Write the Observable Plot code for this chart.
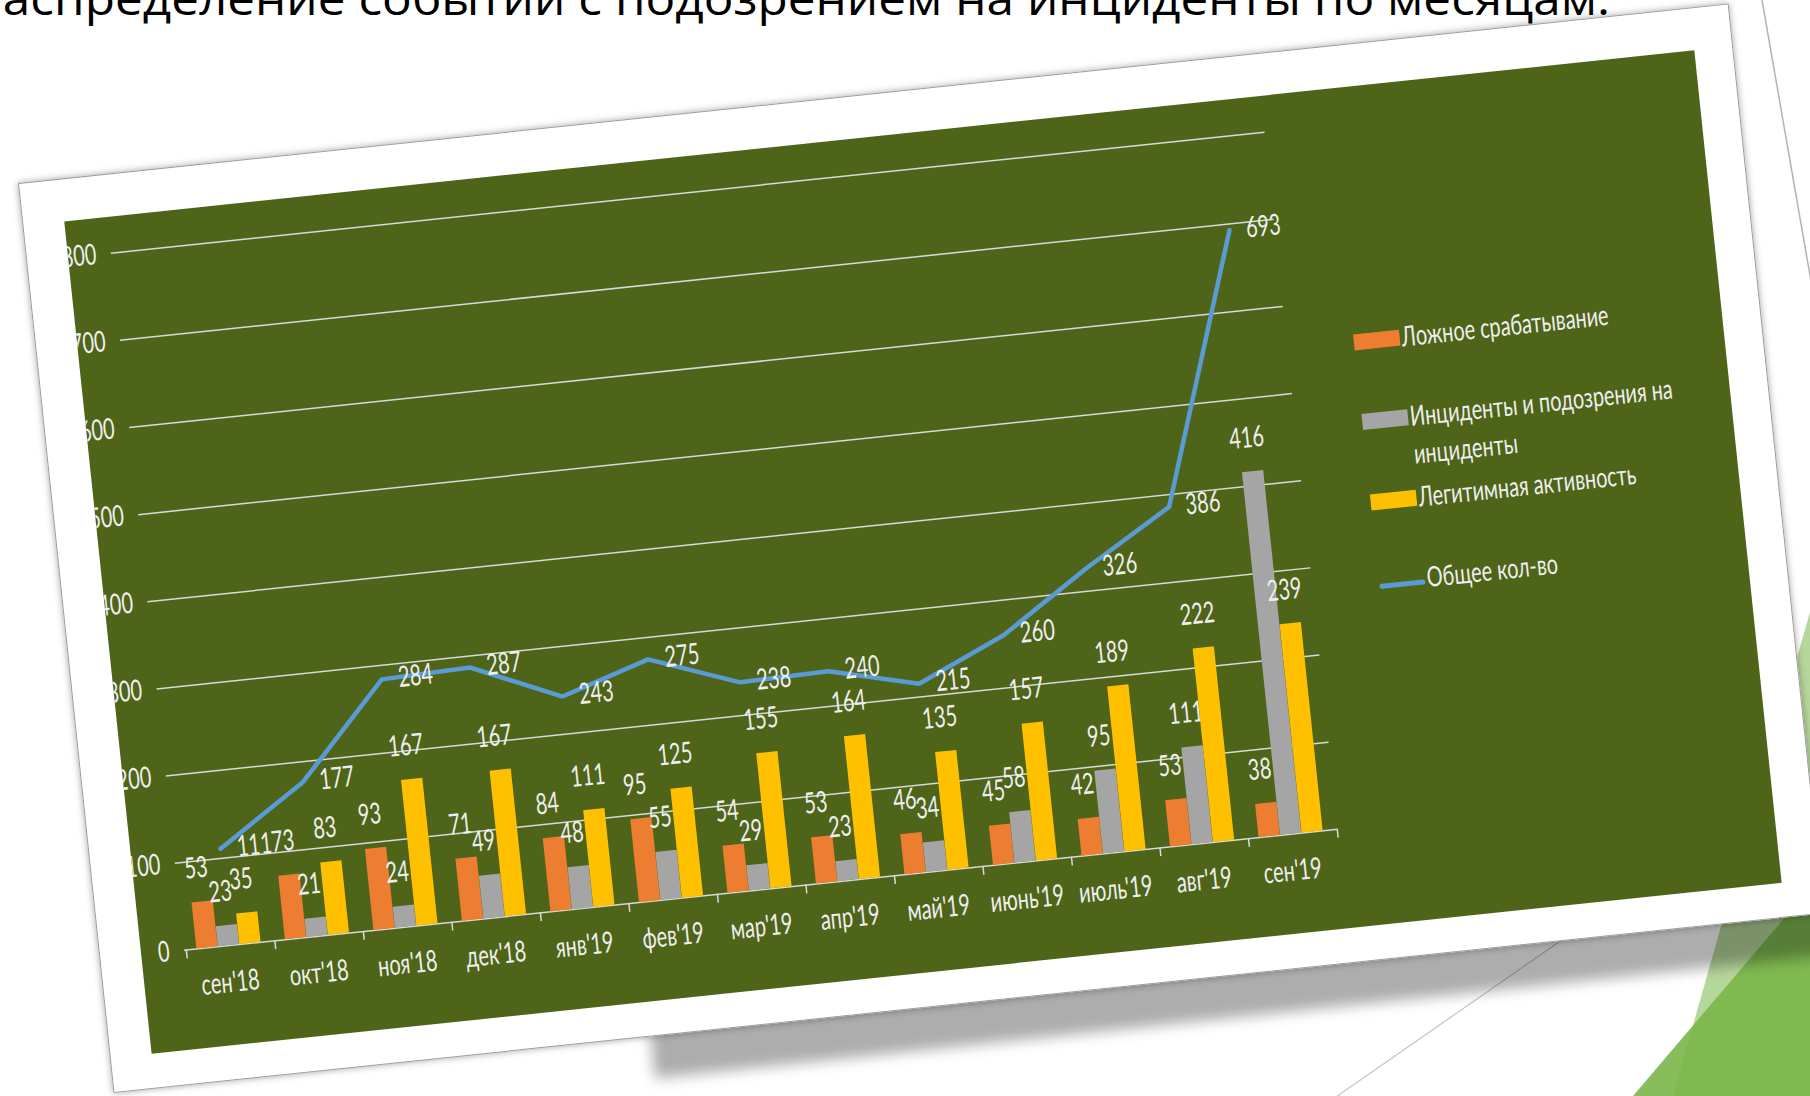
<!DOCTYPE html>
<html><head><meta charset="utf-8">
<script src="https://cdn.jsdelivr.net/npm/d3@7"></script>
<script src="https://cdn.jsdelivr.net/npm/@observablehq/plot@0.6"></script>
<style>
html,body{margin:0;padding:0;background:#fff;}
body{width:1810px;height:1096px;overflow:hidden;position:relative;}
#deco{position:absolute;left:0;top:0;}
#titlesvg{position:absolute;left:0;top:0;}
#frame{position:absolute;left:18px;top:183px;width:1720px;height:915px;transform-origin:0 0;transform:rotate(-5.99deg);}
#shadow{position:absolute;left:540px;top:895px;width:1320px;height:62px;background:rgba(0,0,0,0.32);filter:blur(7px);}
#card{position:absolute;left:0;top:0;width:1720px;height:915px;box-sizing:border-box;background:#fff;border:1px solid #9c9c9c;box-shadow:0 0 7px rgba(0,0,0,0.35);}
#green{position:absolute;left:41px;top:42px;width:1639px;height:837px;background:#4E6419;overflow:hidden;}
#chart{position:absolute;left:0;top:0;}
.sw{position:absolute;}
.lt{position:absolute;color:#EEEEEE;font-family:Lato,"Open Sans",sans-serif;font-size:28px;line-height:38px;white-space:nowrap;transform-origin:0 0;transform:translateY(-19px) scaleX(0.71);}
</style></head><body>
<svg id="deco" width="1810" height="1096">
  <line x1="1762" y1="0" x2="1830" y2="390" stroke="#b3b3b3" stroke-width="1.5"/>
  <line x1="1300" y1="1122" x2="1720" y2="830" stroke="#c4c4c4" stroke-width="1.2"/>
  <polygon points="1673,1096 1810,612 1810,1096" fill="#7AB648" fill-opacity="0.55"/>
  <polygon points="1633,1096 1810,888 1810,1096" fill="#7AB648" fill-opacity="0.9"/>
</svg>
<svg id="titlesvg" width="1810" height="60">
  <text x="-27" y="15" font-family="Open Sans, DejaVu Sans, sans-serif" font-size="46" fill="#000" textLength="1637" lengthAdjust="spacingAndGlyphs">Распределение событий с подозрением на инциденты по месяцам:</text>
</svg>
<div id="frame">
  <div id="shadow"></div>
  <div id="card"><div id="green"><div id="chart"></div><div id="legend"></div></div></div>
</div>
<script>
// ---- data ----
const months = ["сен'18","окт'18","ноя'18","дек'18","янв'19","фев'19","мар'19","апр'19","май'19","июнь'19","июль'19","авг'19","сен'19"];
const falseAlarms = [53,73,93,71,84,95,54,53,46,45,42,53,38];
const incidents   = [23,21,24,49,48,55,29,23,34,58,95,111,416];
const legitimate  = [35,83,167,167,111,125,155,164,135,157,189,222,239];
const totals      = [111,177,284,287,243,275,238,240,215,260,326,386,693];
const yTicks = [0,100,200,300,400,500,600,700,800];
const seriesNames = ["Ложное срабатывание","Инциденты и подозрения на<br>инциденты","Легитимная активность","Общее кол-во"];
const seriesColors = ["#ED7D31","#A5A5A5","#FFC000","#5B9BD5"];

// ---- layout ----
const W = 1639, H = 837, mL = 43, mR = 436, mT = 36, mB = 100;
const step = (W - mL - mR) / months.length;
const padL = 10.5, padR = 14, bw = (step - padL - padR) / 3;
const font = 'Lato,"Open Sans",sans-serif';
const txt = "#EEEEEE";
const fs = 29, squeeze = 0.69;

const barSeries = [falseAlarms, incidents, legitimate];
const barMarks = [];
barSeries.forEach((vals, i) => {
  const rows = months.map((m, k) => ({month: m, value: vals[k]}));
  barMarks.push(Plot.barY(rows, {
    x: "month", y: "value", fill: seriesColors[i],
    insetLeft: padL + i * bw, insetRight: step - padL - (i + 1) * bw
  }));
  barMarks.push(Plot.text(rows, {
    x: "month", y: "value", text: d => String(d.value),
    dx: -step / 2 + padL + (i + 0.5) * bw - 3, dy: -34, lineAnchor: "middle",
    fill: txt, fontSize: fs
  }));
});
const totalRows = months.map((m, k) => ({month: m, value: totals[k]}));

const chart = Plot.plot({
  width: W, height: H,
  marginLeft: mL, marginRight: mR, marginTop: mT, marginBottom: mB,
  style: {background: "transparent", fontFamily: font, overflow: "visible"},
  x: {domain: months, padding: 0, axis: null},
  y: {domain: [0, 800], axis: null},
  marks: [
    Plot.ruleY(yTicks, {stroke: "#D9D9D9", strokeWidth: 1.5}),
    Plot.ruleX(months, {y1: 0, y2: -10, dx: -step / 2, stroke: "#D9D9D9", strokeWidth: 1.5}),
    Plot.ruleX([months[months.length - 1]], {y1: 0, y2: -10, dx: step / 2, stroke: "#D9D9D9", strokeWidth: 1.5}),
    Plot.text(yTicks, {y: d => d, text: d => String(d), frameAnchor: "left", textAnchor: "end", dx: -15, lineAnchor: "middle", fill: txt, fontSize: fs}),
    Plot.text(months, {x: d => d, text: d => d, frameAnchor: "bottom", dy: 37, dx: -4, lineAnchor: "middle", fill: txt, fontSize: fs}),
    ...barMarks,
    Plot.lineY(totalRows, {x: "month", y: "value", stroke: seriesColors[3], strokeWidth: 4.5, strokeLinejoin: "miter"}),
    Plot.text(totalRows, {x: "month", y: "value", text: d => String(d.value), dx: 34, dy: 0, lineAnchor: "middle", fill: txt, fontSize: fs})
  ]
});
// narrow the glyphs horizontally (the original uses a condensed-looking face)
chart.querySelectorAll("text").forEach(t => {
  const tr = t.getAttribute("transform") || "";
  t.setAttribute("transform", (tr + ` scale(${squeeze},1)`).trim());
});
document.getElementById("chart").appendChild(chart);

// ---- legend (inside the green area, right side) ----
const lg = document.getElementById("legend");
const rowsV = [255, 335, 416, 500];
seriesNames.forEach((name, i) => {
  const sw = document.createElement("div");
  sw.className = "sw";
  const isLine = i === 3;
  const h = isLine ? 5 : 16;
  sw.style.left = "1270px";
  sw.style.top = (rowsV[i] - h / 2) + "px";
  sw.style.width = "46px";
  sw.style.height = h + "px";
  sw.style.background = seriesColors[i];
  if (isLine) sw.style.borderRadius = "3px";
  lg.appendChild(sw);
  const t = document.createElement("div");
  t.className = "lt";
  t.style.left = "1318px";
  t.style.top = (rowsV[i] - (i === 3 ? 5 : 2)) + "px";
  t.innerHTML = name;
  lg.appendChild(t);
});
</script>
</body></html>
